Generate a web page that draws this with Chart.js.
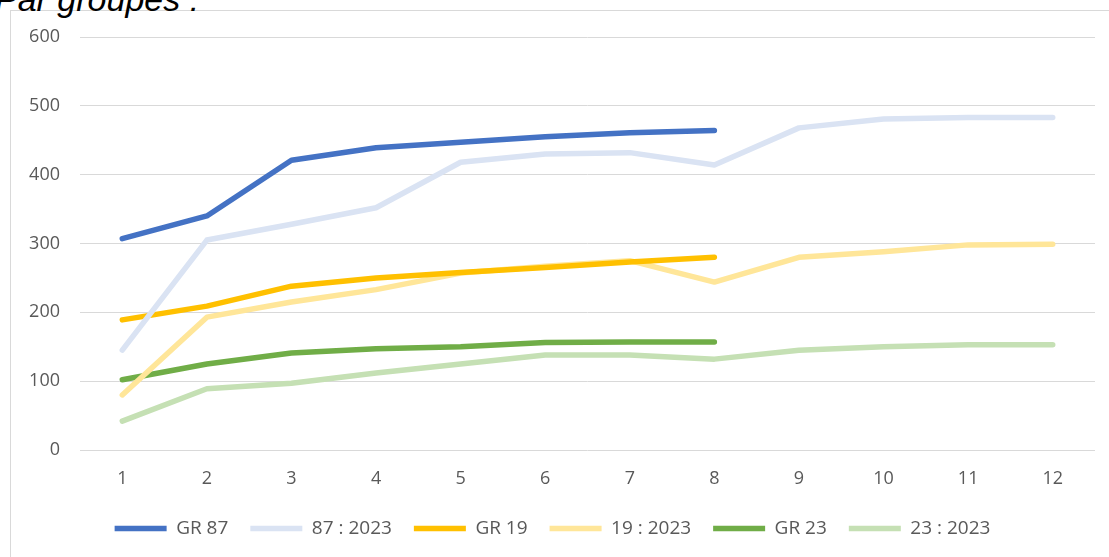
<!DOCTYPE html>
<html>
<head>
<meta charset="utf-8">
<script src="https://cdn.jsdelivr.net/npm/chart.js@4"></script>
<style>
  html, body { margin: 0; padding: 0; background: #fff; overflow: hidden; }
  #wrap { position: relative; width: 1109px; height: 557px; }
  #frame { position: absolute; left: 10px; top: 10px; right: -5px; bottom: -5px;
           border-left: 1px solid #d9d9d9; border-top: 1px solid #d9d9d9; }
  #title { position: absolute; left: -5px; top: -18px; font: italic 34px "Liberation Sans", Arial, sans-serif;
           line-height: 34px; color: #000; white-space: nowrap; }
  canvas { position: absolute; left: 0; top: 0; }
</style>
</head>
<body>
<div id="wrap">
  <div id="frame"></div>
  <div id="title">Par groupes :</div>
  <canvas id="line-chart" width="1109" height="557"></canvas>
</div>
<script>
const categories = ["1", "2", "3", "4", "5", "6", "7", "8", "9", "10", "11", "12"];

const gr87 = [307, 340, 421, 439, 447, 455, 461, 464];
const gr87y2023 = [145, 305, 328, 352, 418, 430, 432, 414, 468, 481, 483, 483];
const gr19 = [189, 209, 238, 250, 258, 265, 273, 280];
const gr19y2023 = [80, 193, 215, 233, 257, 267, 275, 244, 280, 288, 298, 299];
const gr23 = [102, 125, 141, 147, 150, 156, 157, 157];
const gr23y2023 = [42, 89, 97, 112, 125, 138, 138, 132, 145, 150, 153, 153];

const yTicks = [0, 100, 200, 300, 400, 500, 600];

const FONT = "'Open Sans', 'Noto Sans', sans-serif";

function series(label, data, color) {
  return {
    label: label,
    data: data,
    borderColor: color,
    backgroundColor: color,
    borderWidth: 5.5,
    borderCapStyle: "round",
    borderJoinStyle: "round",
    pointRadius: 0,
    pointHoverRadius: 0,
    pointStyle: "line",
    tension: 0,
  };
}

const line = document.getElementById("line-chart");
new Chart(line, {
  type: "line",
  data: {
    labels: categories,
    datasets: [
      series("GR 87", gr87, "#4472c4"),
      series("87 : 2023", gr87y2023, "#dae3f3"),
      series("GR 19", gr19, "#ffc000"),
      series("19 : 2023", gr19y2023, "#ffe699"),
      series("GR 23", gr23, "#70ad47"),
      series("23 : 2023", gr23y2023, "#c5e0b4"),
    ],
  },
  options: {
    responsive: false,
    animation: false,
    layout: {
      padding: { left: 10, right: 14, top: 37, bottom: 9 },
    },
    plugins: {
      tooltip: { enabled: false },
      legend: {
        position: "bottom",
        labels: {
          usePointStyle: true,
          pointStyleWidth: 52,
          boxHeight: 5,
          padding: 22,
          color: "#595959",
          font: { family: FONT, size: 19 },
        },
      },
    },
    scales: {
      x: {
        offset: true,
        grid: { display: false },
        border: { display: false },
        ticks: {
          color: "#595959",
          padding: 10,
          font: { family: FONT, size: 18 },
        },
        afterFit: (scale) => {
          scale.height = 47;
        },
      },
      y: {
        min: 0,
        max: 600,
        afterBuildTicks: (scale) => {
          scale.ticks = yTicks.map((v) => ({ value: v }));
        },
        grid: { color: "#d9d9d9", lineWidth: 1, drawTicks: false },
        border: { display: false },
        ticks: {
          color: "#595959",
          padding: 20,
          font: { family: FONT, size: 18 },
        },
        afterFit: (scale) => {
          scale.width = 70;
        },
      },
    },
  },
});
</script>
</body>
</html>
